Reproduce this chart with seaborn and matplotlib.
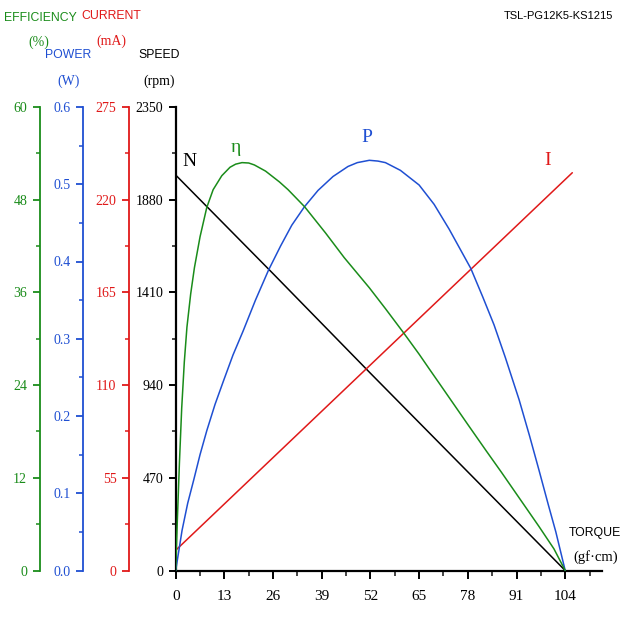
import matplotlib
matplotlib.use('Agg')
import matplotlib.pyplot as plt
from matplotlib import font_manager
from matplotlib.ticker import MultipleLocator, FormatStrFormatter
import seaborn as sns

# ==== data ====
torque_n = [0, 26, 52, 78, 104]
speed = [2005, 1505, 1000, 500, 0]

torque_i = [0, 26, 52, 78, 105.9]
current = [12, 67, 122, 177, 236]

torque_eff = [0, 0.4, 1, 1.6, 2.3, 3, 4, 5, 6.5, 8.3, 10, 12.3, 14.5, 16, 17.7, 19.5, 21, 24, 27.7, 30,
              34.4, 40, 45, 51.7, 56, 60.8, 65, 67.7, 71, 75, 78, 82.9, 87, 91, 94, 97, 101, 104]
efficiency = [0, 6, 14, 21, 27, 31.5, 35.8, 39.2, 43.2, 47.0, 49.3, 51.1, 52.2, 52.6, 52.8, 52.75, 52.5, 51.7,
              50.3, 49.3, 47.1, 43.7, 40.5, 36.6, 33.9, 30.8, 28.0, 26.1, 23.8, 21.0, 18.9, 15.5, 12.7,
              9.9, 7.8, 5.7, 2.8, 0]

torque_p = [0, 1.7, 3.2, 4.8, 6.5, 8.3, 10.5, 12.8, 15.3, 18, 21.3, 24.8, 28, 31, 34.4, 38, 42, 46, 48.5,
            51.7, 54, 56, 60, 65, 69, 73, 78.8, 82, 85, 88, 91.7, 94.5, 97, 99.5, 101.5, 104]
power = [0, 0.052, 0.087, 0.117, 0.150, 0.181, 0.215, 0.246, 0.279, 0.310, 0.350, 0.389, 0.420, 0.447, 0.471,
         0.492, 0.510, 0.523, 0.528, 0.531, 0.530, 0.528, 0.518, 0.499, 0.474, 0.442, 0.391, 0.354, 0.318,
         0.276, 0.221, 0.174, 0.130, 0.085, 0.050, 0]

x_ticks = [0, 13, 26, 39, 52, 65, 78, 91, 104]

GREEN = '#1a8c1a'
BLUE = '#1f4fd2'
RED = '#e01919'
BLACK = '#000000'

sns.set_style('white')
installed = {f.name for f in font_manager.fontManager.ttflist}
SERIF = 'Liberation Serif'
NARROW = 'Liberation Sans Narrow' if 'Liberation Sans Narrow' in installed else 'Liberation Sans'
narrow_ok = NARROW == 'Liberation Sans Narrow'
plt.rcParams['font.family'] = [SERIF, 'DejaVu Serif']

W = 627
fig = plt.figure(figsize=(6.27, 6.27), dpi=100)
fig.patch.set_facecolor('white')

left, right, bottom, top = 175.7, 601.7, 570.5, 107.0
ax = fig.add_axes([left / W, 1 - bottom / W, (right - left) / W, (bottom - top) / W])
ax.set_facecolor('none')

ax_i = ax.twinx()
ax_p = ax.twinx()
ax_e = ax.twinx()

# ==== lines ====
sns.lineplot(x=torque_n, y=speed, ax=ax, color=BLACK, linewidth=1.1, sort=False, estimator=None)
sns.lineplot(x=torque_i, y=current, ax=ax_i, color=RED, linewidth=1.1, sort=False, estimator=None)
sns.lineplot(x=torque_p, y=power, ax=ax_p, color=BLUE, linewidth=1.1, sort=False, estimator=None)
sns.lineplot(x=torque_eff, y=efficiency, ax=ax_e, color=GREEN, linewidth=1.1, sort=False, estimator=None)

# ==== axes setup ====
ax.set_xlim(0, 113.75)
ax.set_ylim(0, 2350)
ax.set_xticks(x_ticks)
ax.xaxis.set_minor_locator(MultipleLocator(6.5))
ax.yaxis.set_major_locator(MultipleLocator(470))
ax.yaxis.set_minor_locator(MultipleLocator(235))
for s in ['top', 'right']:
    ax.spines[s].set_visible(False)
for s in ['left', 'bottom']:
    ax.spines[s].set_color(BLACK)
    ax.spines[s].set_linewidth(1.6)
ax.tick_params(axis='x', which='major', direction='out', length=6, width=1.4, pad=8,
               labelsize=11, colors=BLACK, bottom=True)
ax.tick_params(axis='x', which='minor', direction='out', length=3.5, width=1.2, bottom=True)
ax.tick_params(axis='y', which='major', direction='out', length=5, width=1.4, pad=4,
               labelsize=10, colors=BLACK, left=True)
ax.tick_params(axis='y', which='minor', direction='out', length=3, width=1.2, left=True)
ax.set_xlabel('')
ax.set_ylabel('')

twin_cfg = [
    (ax_i, RED, -46.7, (0, 275), 55, '%d'),
    (ax_p, BLUE, -92.4, (0, 0.6), 0.1, '%.1f'),
    (ax_e, GREEN, -136.0, (0, 60), 12, '%d'),
]
for a, col, off, lim, step, fmt in twin_cfg:
    a.set_ylim(*lim)
    a.set_xlim(0, 113.75)
    a.yaxis.set_ticks_position('left')
    a.yaxis.set_label_position('left')
    a.spines['left'].set_visible(True)
    a.spines['left'].set_position(('axes', off / (right - left)))
    a.spines['left'].set_color(col)
    a.spines['left'].set_linewidth(1.3)
    for s in ['top', 'right', 'bottom']:
        a.spines[s].set_visible(False)
    a.yaxis.set_major_locator(MultipleLocator(step))
    a.yaxis.set_minor_locator(MultipleLocator(step / 2))
    a.yaxis.set_major_formatter(FormatStrFormatter(fmt))
    a.tick_params(axis='y', which='major', direction='out', length=5, width=1.3, pad=4,
                  labelsize=10, colors=col, left=True, right=False)
    a.tick_params(axis='y', which='minor', direction='out', length=3, width=1.1, colors=col,
                  left=True, right=False)
    a.set_ylabel('')
    a.set_xlabel('')

# ==== curve labels ====
ax.text(3.8, 2076, 'N', color=BLACK, fontsize=14, ha='center', va='center')
ax.text(16.1, 2147, 'η', color=GREEN, fontsize=14, ha='center', va='center')
ax.text(51.0, 2193, 'P', color=BLUE, fontsize=14, ha='center', va='center')
ax.text(99.3, 2081, 'I', color=RED, fontsize=14, ha='center', va='center')

# ==== axis titles ====
def ftext(px, py, s, col, size, family):
    fig.text(px / W, 1 - py / W, s, color=col, fontsize=size, ha='center', va='center',
             family=family)

hsize = 9.5 if narrow_ok else 8.8
ftext(40.5, 18, 'EFFICIENCY', GREEN, hsize, NARROW)
ftext(38.5, 42, '(%)', GREEN, 10, SERIF)
ftext(68.3, 55, 'POWER', BLUE, hsize, NARROW)
ftext(68.3, 81, '(W)', BLUE, 10, SERIF)
ftext(111.7, 16, 'CURRENT', RED, hsize, NARROW)
ftext(111.0, 41, '(mA)', RED, 10, SERIF)
ftext(159, 55, 'SPEED', BLACK, hsize, NARROW)
ftext(159, 81, '(rpm)', BLACK, 10, SERIF)
ftext(595, 533, 'TORQUE', BLACK, hsize, NARROW)
ftext(596, 557, '(gf·cm)', BLACK, 10.5, SERIF)
ftext(558.7, 16, 'TSL-PG12K5-KS1215', BLACK, 9 if narrow_ok else 8, NARROW)

fig.savefig('out.png', dpi=100, facecolor='white')
